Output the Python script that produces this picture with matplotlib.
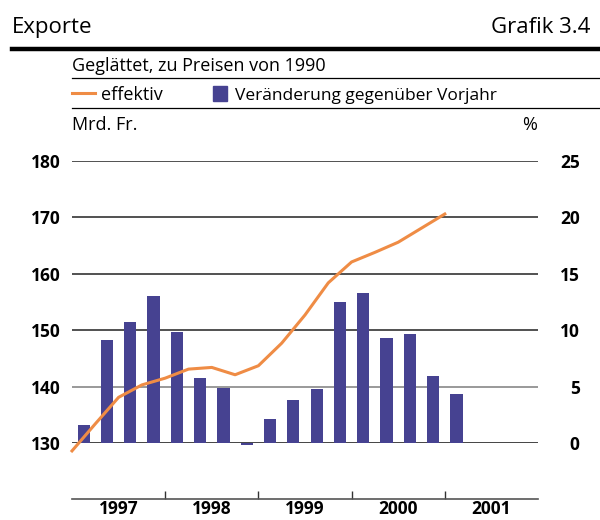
#!/usr/bin/env python3
"""Exporte, Grafik 3.4: geglaettete Exporte (Mrd. Fr.) und Veraenderung gegenueber Vorjahr (%)."""
import matplotlib
matplotlib.use("Agg")
import matplotlib.pyplot as plt
from matplotlib.lines import Line2D
from matplotlib.patches import Rectangle

# quarterly data, x in quarters since 1997 Q1
years = ["1997", "1998", "1999", "2000", "2001"]
level = [128.6, 133.4, 138.1, 140.3, 141.5, 143.1, 143.4, 142.1, 143.7,
         147.7, 152.7, 158.4, 162.1, 163.8, 165.6, 168.1, 170.6]
change = [1.6, 9.1, 10.7, 13.0, 9.8, 5.8, 4.9, -0.15, 2.1,
          3.8, 4.8, 12.5, 13.3, 9.3, 9.7, 5.9, 4.3]
left_ticks = [130, 140, 150, 160, 170, 180]
right_ticks = [0, 5, 10, 15, 20, 25]

ORANGE = "#EF8C45"
BLUE = "#464291"
HEAD = dict(family="Open Sans", stretch="semi-condensed", weight="normal")
TICK = dict(family="Open Sans", stretch="normal", weight="bold")

W, H = 600, 520


def fx(px):
    return px / W


def fy(py):
    return 1 - py / H


fig = plt.figure(figsize=(W / 100, H / 100), dpi=100)
fig.patch.set_facecolor("white")

# header
fig.text(fx(12), fy(33), "Exporte", fontsize=16, va="baseline", ha="left", **HEAD)
fig.text(fx(590), fy(33), "Grafik 3.4", fontsize=16, va="baseline", ha="right", **HEAD)
fig.add_artist(Line2D([fx(12), fx(598)], [fy(48.5), fy(48.5)], color="black", lw=3.2))
fig.text(fx(72), fy(71), "Geglättet, zu Preisen von 1990", fontsize=13, va="baseline", **HEAD)
fig.add_artist(Line2D([fx(72), fx(600)], [fy(78), fy(78)], color="black", lw=0.9))

# legend
fig.add_artist(Line2D([fx(72), fx(95)], [fy(93), fy(93)], color=ORANGE, lw=2.2))
fig.text(fx(101), fy(100), "effektiv", fontsize=13, va="baseline", **HEAD)
fig.add_artist(Rectangle((fx(213), fy(101)), fx(14), 15 / H, color=BLUE))
fig.text(fx(235), fy(100), "Veränderung gegenüber Vorjahr", fontsize=12.5, va="baseline", **HEAD)
fig.add_artist(Line2D([fx(72), fx(600)], [fy(108), fy(108)], color="black", lw=0.9))

fig.text(fx(72), fy(130), "Mrd. Fr.", fontsize=13, va="baseline", **HEAD)
fig.text(fx(537), fy(130), "%", fontsize=13, va="baseline", ha="right", **HEAD)

# main axes
left, right, top, bottom = 72, 538, 161, 443
ax = fig.add_axes([fx(left), fy(bottom), (right - left) / W, (bottom - top) / H])
ax2 = ax.twinx()
n_q = 4 * len(years)

ax.set_xlim(0, n_q)
ax.set_ylim(left_ticks[0], left_ticks[-1])
ax2.set_ylim(right_ticks[0], right_ticks[-1])

for v in right_ticks:
    col = "#888888" if v == 5 else "#333333"
    lw = 2.0 if v == 0 else 1.2
    ax2.axhline(v, color=col, lw=lw, zorder=1)

xb = [i + 0.5 for i in range(len(change))]
ax2.bar(xb, change, width=0.52, color=BLUE, zorder=2, clip_on=False)

ax.set_zorder(ax2.get_zorder() + 1)
ax.patch.set_visible(False)
ax.plot(range(len(level)), level, color=ORANGE, lw=2.2, clip_on=False, solid_joinstyle="round")

for a in (ax, ax2):
    for s in a.spines.values():
        s.set_visible(False)
    a.set_xticks([])
    a.tick_params(length=0)

ax.set_yticks(left_ticks)
ax.set_yticklabels([str(t) for t in left_ticks], fontsize=12.5, **TICK)
ax.tick_params(axis="y", pad=8)
ax2.set_yticks(right_ticks)
ax2.set_yticklabels([str(t) for t in right_ticks], fontsize=12.5, **TICK)
for lab in ax2.get_yticklabels():
    lab.set_horizontalalignment("right")
ax2.tick_params(axis="y", pad=30)

# year axis
axy = fig.add_axes([fx(left), fy(499), (right - left) / W, 0.0001])
axy.set_xlim(0, n_q)
axy.set_yticks([])
for s in ("top", "left", "right"):
    axy.spines[s].set_visible(False)
axy.spines["bottom"].set_color("#555555")
axy.spines["bottom"].set_linewidth(1.2)
axy.set_xticks(range(4, n_q, 4))
axy.set_xticklabels([])
axy.tick_params(axis="x", which="major", direction="in", length=6, width=1, color="#333333")
axy.set_xticks([4 * i + 2 for i in range(len(years))], minor=True)
axy.set_xticklabels(years, minor=True, fontsize=12.5, **TICK)
axy.tick_params(axis="x", which="minor", length=0, pad=1)

fig.savefig("out.png", dpi=100)
